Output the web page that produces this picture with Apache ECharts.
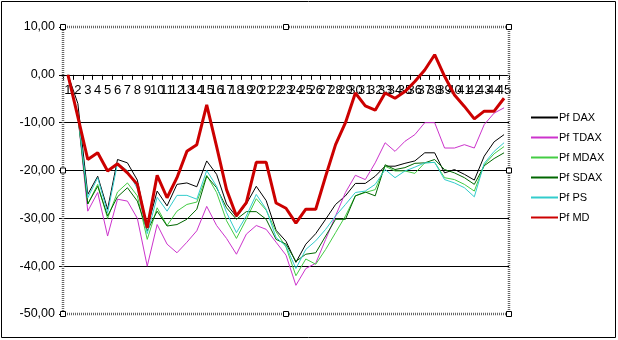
<!DOCTYPE html>
<html>
<head>
<meta charset="utf-8">
<script src="https://cdn.jsdelivr.net/npm/echarts@6/dist/echarts.min.js"></script>
<style>html,body{margin:0;padding:0;background:#fff}#c{width:618px;height:340px}</style>
</head>
<body>
<div id="c"></div>
<script>
var categories = [];
for (var k = 1; k <= 45; k++) categories.push(String(k));

var yTicks = [-50, -40, -30, -20, -10, 0, 10];

var pfDAX = [0, -6, -25, -21.2, -28.1, -17.7, -18.4, -22, -32, -24.3,
  -27.4, -22.9, -22.6, -23.4, -18, -20.8, -27, -29.7, -27, -23.3,
  -26.3, -32.5, -34.8, -39.2, -35.4, -33.2, -30.2, -27.1, -25.3, -22.7,
  -22.7, -21.2, -19.1, -19.1, -18.5, -18, -16.3, -16.3, -20.5, -19.8,
  -20.8, -22, -17, -14, -12.5];
var pfTDAX = [0, -8.5, -28.5, -24.6, -33.7, -26, -26.4, -30, -40, -31.3,
  -35.4, -37.2, -35, -32.6, -27.5, -31.5, -34.2, -37.5, -33.3, -31.5,
  -32.3, -35, -37.7, -44, -40.5, -39.4, -34.4, -29.5, -24.6, -21,
  -21.9, -18.4, -14.2, -16, -13.9, -12.5, -10, -10, -15.3, -15.3,
  -14.6, -15.3, -10.4, -8, -6.9];
var pfMDAX = [0, -8.5, -27, -22.9, -30, -24.5, -22.6, -25.3, -34.4, -27.8,
  -31.5, -28.5, -27.1, -26.6, -21, -24.6, -30.5, -34.2, -30.2, -25.9,
  -28.3, -32.8, -36, -42, -38.5, -39.6, -36.5, -33, -29.5, -25.3,
  -24.6, -24, -19.1, -20.1, -20.1, -20.6, -18.4, -18.3, -21.5, -21.9,
  -22.9, -24.3, -18.8, -16.5, -15];
var pfSDAX = [0, -8.5, -27, -23.3, -29.5, -25.5, -23.6, -26.4, -32.6, -28.5,
  -31.6, -31.3, -30.2, -28.1, -21.2, -23.6, -27.8, -30.2, -28.6, -28.6,
  -30.2, -34.4, -35.4, -39, -37.5, -37.2, -33.7, -30.2, -30.2, -25.3,
  -24.5, -25.3, -18.8, -19.8, -19.4, -18.5, -18.4, -17.7, -19.8, -20.5,
  -21.5, -22.9, -19, -17.5, -16.3];
var pfPS = [0, -8.5, -25.7, -21.5, -28.8, -18.5, -20, -23.8, -33.2, -25.6,
  -28.5, -25.2, -25.2, -26, -20, -23.3, -28.8, -33, -29.5, -25,
  -28.1, -34, -35.8, -40.5, -36.5, -34.7, -32.3, -29.5, -27.1, -24.6,
  -24.3, -22.9, -19.8, -21.5, -20.1, -19.3, -18.4, -18.3, -21.9, -22.6,
  -23.6, -25.5, -18.5, -16, -14.2];
var pfMD = [0, -8.8, -17.7, -16.3, -20.1, -18.6, -20.5, -22.9, -32, -21,
  -25.7, -21.5, -16, -14.6, -6.3, -15, -24, -29.5, -26.7, -18.3,
  -18.3, -26.8, -27.9, -31, -28.1, -28.1, -21.2, -14.6, -10, -3.8,
  -6.5, -7.4, -3.8, -4.9, -3.5, -1.4, 1, 4.2, -0.3, -4.2,
  -6.6, -9.2, -7.6, -7.6, -4.9];

var seriesNames = ['Pf DAX', 'Pf TDAX', 'Pf MDAX', 'Pf SDAX', 'Pf PS', 'Pf MD'];
var seriesData = [pfDAX, pfTDAX, pfMDAX, pfSDAX, pfPS, pfMD];
var seriesColors = ['#000000', '#cc33cc', '#44cc44', '#006600', '#33cccc', '#cc0000'];
var seriesWidths = [1, 1, 1, 1, 1, 3];

var G = {left: 63, top: 27, right: 509, bottom: 314};
var FONT = 'Liberation Sans, Arial, sans-serif';

var chart = echarts.init(document.getElementById('c'), null, {renderer: 'canvas'});

var series = seriesNames.map(function (n, i) {
  return {
    name: n, type: 'line', data: seriesData[i], symbol: 'none', showSymbol: false,
    lineStyle: {color: seriesColors[i], width: seriesWidths[i]},
    itemStyle: {color: seriesColors[i]},
    emphasis: {disabled: true}, animation: false, z: 3 + i
  };
});

function handle(x, y) {
  return {type: 'rect', shape: {x: x - 2.5, y: y - 2.5, width: 5, height: 5},
    style: {fill: '#fff', stroke: '#000', lineWidth: 1}, z: 200};
}
var midX = (G.left + G.right) / 2, midY = (G.top + G.bottom) / 2;

chart.setOption({
  animation: false,
  backgroundColor: '#fff',
  textStyle: {fontFamily: FONT},
  grid: {left: G.left, top: G.top, width: G.right - G.left, height: G.bottom - G.top, containLabel: false},
  legend: {
    orient: 'vertical', left: 530, top: 112, padding: 0, itemWidth: 27, itemHeight: 12, itemGap: 9,
    data: seriesNames, selectedMode: false,
    itemStyle: {opacity: 0},
    textStyle: {fontSize: 11, color: '#000', fontFamily: FONT, padding: [0, 0, 0, -4]}
  },
  xAxis: {
    type: 'category', data: categories, boundaryGap: true,
    axisLine: {onZero: false, lineStyle: {color: '#000', width: 1}},
    axisTick: {show: true, length: 5, lineStyle: {color: '#000'}},
    axisLabel: {interval: 0, fontSize: 13, color: '#000', margin: 9, fontFamily: FONT},
    splitLine: {show: false}
  },
  yAxis: {
    type: 'value', min: yTicks[0], max: yTicks[yTicks.length - 1], interval: 10,
    axisLine: {show: false},
    axisTick: {show: true, length: 4, lineStyle: {color: '#000'}},
    axisLabel: {fontSize: 12.5, color: '#000', margin: 8, fontFamily: FONT,
      formatter: function (v) { return v.toFixed(2).replace('.', ','); }},
    splitLine: {show: true, lineStyle: {color: ['rgba(0,0,0,0)', '#000', '#000', '#000', '#000', '#000', 'rgba(0,0,0,0)'], width: 1}}
  },
  graphic: [
    {type: 'rect', shape: {x: 1.5, y: 1.5, width: 614, height: 336},
      style: {fill: 'none', stroke: '#000', lineWidth: 1}, z: 100, silent: true},
    {type: 'rect', shape: {x: G.left, y: G.top, width: G.right - G.left, height: G.bottom - G.top},
      style: {fill: 'none', stroke: '#666', lineWidth: 2.5, lineDash: [1, 1]}, z: 150, silent: true},
    handle(G.left, G.top), handle(midX, G.top), handle(G.right, G.top),
    handle(G.left, midY), handle(G.right, midY),
    handle(G.left, G.bottom), handle(midX, G.bottom), handle(G.right, G.bottom)
  ],
  series: series
});

// place the category axis on the zero line of the value axis
var zeroY = chart.convertToPixel({yAxisIndex: 0}, 0);
chart.setOption({xAxis: {offset: zeroY - G.bottom}});
</script>
</body>
</html>
